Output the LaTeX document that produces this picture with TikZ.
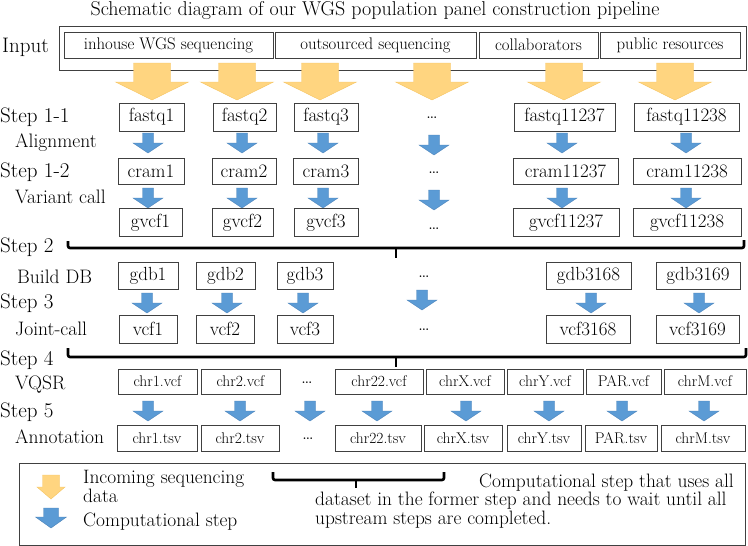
\documentclass[tikz,border=0pt]{standalone}
\definecolor{seqyellow}{HTML}{FFD580}
\definecolor{seqyellowline}{HTML}{F5C462}
\definecolor{compblue}{HTML}{5B9BD5}
\definecolor{compblueline}{HTML}{4A82B8}
\begin{document}
\begin{tikzpicture}[x=1pt,y=-1pt]
\tikzset{
  srcbox/.style={draw=black!75,line width=0.9pt,inner sep=0pt,minimum height=26pt,font=\fontsize{16.8}{19}\selectfont},
  databox/.style={draw=black!75,line width=0.9pt,inner sep=0pt,minimum height=28pt,font=\fontsize{19}{21}\selectfont},
  chrbox/.style={draw=black!75,line width=0.9pt,inner sep=0pt,minimum height=25pt,font=\fontsize{15.5}{18}\selectfont},
  steplabel/.style={anchor=west,inner sep=0pt,font=\fontsize{21}{24}\selectfont},
  sublabel/.style={anchor=west,inner sep=0pt,font=\fontsize{19.5}{22}\selectfont},
  legendtext/.style={anchor=base west,inner sep=0pt,font=\fontsize{19.4}{22}\selectfont},
  moredots/.style={inner sep=0pt,font=\fontsize{20}{22}\selectfont},
  seqarrow/.style={fill=seqyellow,draw=seqyellowline,line width=0.4pt},
  comparrow/.style={fill=compblue,draw=compblueline,line width=0.4pt},
  waitbracket/.style={line width=2.6pt,rounded corners=2pt},
  % half shaft / half head / length / head length, drawn from the top centre
  pics/blockarrow/.style args={#1/#2/#3/#4}{code={
    \path[pic actions] (-#1,0) -- (#1,0) -- (#1,#3-#4) -- (#2,#3-#4) -- (0,#3)
      -- (-#2,#3-#4) -- (-#1,#3-#4) -- cycle;}},
  pics/blockarrow/.default=5.5/15/20/10
}
\useasboundingbox (0,0) rectangle (748,546);
% title
\node[font=\fontsize{20}{23}\selectfont,inner sep=0pt] (n_title) at (375,11) {Schematic diagram of our WGS population panel construction pipeline};
% row labels
\node[steplabel] (l_input) at (2,47) {Input};
\node[steplabel] (l_s11) at (0,117) {Step 1-1};
\node[sublabel] (l_aln) at (15,143) {Alignment};
\node[steplabel] (l_s12) at (0,172) {Step 1-2};
\node[sublabel] (l_var) at (15,197) {Variant call};
\node[steplabel] (l_s2) at (0,247) {Step 2};
\node[sublabel] (l_db) at (17,277) {Build DB};
\node[steplabel] (l_s3) at (0,303) {Step 3};
\node[sublabel] (l_joint) at (15,329) {Joint-call};
\node[steplabel] (l_s4) at (0,360) {Step 4};
\node[sublabel] (l_vqsr) at (15,385) {VQSR};
\node[steplabel] (l_s5) at (0,412) {Step 5};
\node[sublabel] (l_anno) at (15,437) {Annotation};
% input sources
\node[draw=black!75,line width=0.9pt,minimum width=687pt,minimum height=44pt,inner sep=0pt] (n_input) at (402.5,48) {};
\node[srcbox,minimum width=209pt] (n_inhouse) at (168.5,45) {inhouse WGS sequencing};
\node[srcbox,minimum width=201pt] (n_outsourced) at (375.5,45) {outsourced sequencing};
\node[srcbox,minimum width=119pt] (n_collab) at (538.5,45) {collaborators};
\node[srcbox,minimum width=140pt] (n_public) at (670,45) {public resources};
\pic[seqarrow] (y_1) at (152,63) {blockarrow=18.5/36.5/37/18};
\pic[seqarrow] (y_2) at (237,63) {blockarrow=18.5/36.5/37/18};
\pic[seqarrow] (y_3) at (320,63) {blockarrow=18.5/36.5/37/18};
\pic[seqarrow] (y_4) at (432,63) {blockarrow=18.5/36.5/37/18};
\pic[seqarrow] (y_5) at (564,63) {blockarrow=18.5/36.5/37/18};
\pic[seqarrow] (y_6) at (675,63) {blockarrow=18.5/36.5/37/18};
% step 1-1
\node[databox,minimum width=65pt] (n_fastq1) at (151.5,117) {fastq1};
\node[databox,minimum width=63pt] (n_fastq2) at (244.5,117) {fastq2};
\node[databox,minimum width=64pt] (n_fastq3) at (326,117) {fastq3};
\node[moredots] (d_fastq) at (432,118) {\dots};
\node[databox,minimum width=101pt] (n_fastq11237) at (564.5,117) {fastq11237};
\node[databox,minimum width=105pt] (n_fastq11238) at (686.5,117) {fastq11238};
\pic[comparrow] (b_aln1) at (148,133) {blockarrow};
\pic[comparrow] (b_aln2) at (242,133) {blockarrow};
\pic[comparrow] (b_aln3) at (323,133) {blockarrow};
\pic[comparrow] (b_aln4) at (434,135) {blockarrow};
\pic[comparrow] (b_aln5) at (562,133) {blockarrow};
\pic[comparrow] (b_aln6) at (686,133) {blockarrow};
% step 1-2
\node[databox,minimum width=66pt,minimum height=26pt] (n_cram1) at (151,171) {cram1};
\node[databox,minimum width=64pt,minimum height=26pt] (n_cram2) at (244,171) {cram2};
\node[databox,minimum width=65pt,minimum height=26pt] (n_cram3) at (326,171) {cram3};
\node[moredots] (d_cram) at (434,173) {\dots};
\node[databox,minimum width=105pt,minimum height=26pt] (n_cram11237) at (565.5,171) {cram11237};
\node[databox,minimum width=108pt,minimum height=26pt] (n_cram11238) at (687,171) {cram11238};
\pic[comparrow] (b_var1) at (148,188) {blockarrow};
\pic[comparrow] (b_var2) at (242,188) {blockarrow};
\pic[comparrow] (b_var3) at (323,188) {blockarrow};
\pic[comparrow] (b_var4) at (434,190) {blockarrow};
\pic[comparrow] (b_var5) at (562,188) {blockarrow};
\pic[comparrow] (b_var6) at (686,188) {blockarrow};
\node[databox,minimum width=63pt] (n_gvcf1) at (150.5,222.5) {gvcf1};
\node[databox,minimum width=61pt] (n_gvcf2) at (242.5,222.5) {gvcf2};
\node[databox,minimum width=64pt] (n_gvcf3) at (326,222.5) {gvcf3};
\node[moredots] (d_gvcf) at (434,229) {\dots};
\node[databox,minimum width=106pt] (n_gvcf11237) at (566,222.5) {gvcf11237};
\node[databox,minimum width=108pt] (n_gvcf11238) at (687,222.5) {gvcf11238};
% step 2
\draw[waitbracket] (68,241) -- (68,248) -- (744,248) -- (744,240);
\draw[waitbracket] (396,248) -- (396,258);
\node[databox,minimum width=60pt,minimum height=27pt] (n_gdb1) at (148,275.5) {gdb1};
\node[databox,minimum width=59pt,minimum height=27pt] (n_gdb2) at (225.5,275.5) {gdb2};
\node[databox,minimum width=56pt,minimum height=27pt] (n_gdb3) at (305,275.5) {gdb3};
\node[moredots] (d_gdb) at (424,277) {\dots};
\node[databox,minimum width=85pt,minimum height=27pt] (n_gdb3168) at (588.5,275.5) {gdb3168};
\node[databox,minimum width=84pt,minimum height=27pt] (n_gdb3169) at (698,275.5) {gdb3169};
% step 3
\pic[comparrow] (b_jc1) at (147,293) {blockarrow};
\pic[comparrow] (b_jc2) at (227,293) {blockarrow};
\pic[comparrow] (b_jc3) at (303,293) {blockarrow};
\pic[comparrow] (b_jc4) at (422,290) {blockarrow};
\pic[comparrow] (b_jc5) at (591,293) {blockarrow};
\pic[comparrow] (b_jc6) at (699,293) {blockarrow};
\node[databox,minimum width=58pt] (n_vcf1) at (148,329) {vcf1};
\node[databox,minimum width=58pt] (n_vcf2) at (225,329) {vcf2};
\node[databox,minimum width=56pt] (n_vcf3) at (305,329) {vcf3};
\node[moredots] (d_vcf) at (424,330) {\dots};
\node[databox,minimum width=84pt] (n_vcf3168) at (588,329) {vcf3168};
\node[databox,minimum width=83pt] (n_vcf3169) at (697.5,329) {vcf3169};
% step 4
\draw[waitbracket] (68,348) -- (68,357) -- (746,357) -- (746,348);
\draw[waitbracket] (396,357) -- (396,367);
\node[chrbox,minimum width=79pt] (n_chr1vcf) at (157.5,381.5) {chr1.vcf};
\node[chrbox,minimum width=79pt] (n_chr2vcf) at (240.5,381.5) {chr2.vcf};
\node[moredots] (d_chrvcf) at (307,383) {\dots};
\node[chrbox,minimum width=88pt] (n_chr22vcf) at (379,381.5) {chr22.vcf};
\node[chrbox,minimum width=78pt] (n_chrXvcf) at (465,381.5) {chrX.vcf};
\node[chrbox,minimum width=76pt] (n_chrYvcf) at (545,381.5) {chrY.vcf};
\node[chrbox,minimum width=75pt] (n_PARvcf) at (623.5,381.5) {PAR.vcf};
\node[chrbox,minimum width=82pt] (n_chrMvcf) at (705,381.5) {chrM.vcf};
% step 5
\pic[comparrow] (b_an1) at (148,401) {blockarrow};
\pic[comparrow] (b_an2) at (240,401) {blockarrow};
\pic[comparrow] (b_an3) at (310,401) {blockarrow};
\pic[comparrow] (b_an4) at (377,401) {blockarrow};
\pic[comparrow] (b_an5) at (466,401) {blockarrow};
\pic[comparrow] (b_an6) at (549,401) {blockarrow};
\pic[comparrow] (b_an7) at (622,401) {blockarrow};
\pic[comparrow] (b_an8) at (704,401) {blockarrow};
\node[chrbox,minimum width=80pt,minimum height=26pt] (n_chr1tsv) at (157,438) {chr1.tsv};
\node[chrbox,minimum width=78pt,minimum height=26pt] (n_chr2tsv) at (240,438) {chr2.tsv};
\node[moredots] (d_chrtsv) at (308,439) {\dots};
\node[chrbox,minimum width=86pt,minimum height=26pt] (n_chr22tsv) at (378,438) {chr22.tsv};
\node[chrbox,minimum width=78pt,minimum height=26pt] (n_chrXtsv) at (463,438) {chrX.tsv};
\node[chrbox,minimum width=74pt,minimum height=26pt] (n_chrYtsv) at (544,438) {chrY.tsv};
\node[chrbox,minimum width=72pt,minimum height=26pt] (n_PARtsv) at (621,438) {PAR.tsv};
\node[chrbox,minimum width=84pt,minimum height=26pt] (n_chrMtsv) at (703,438) {chrM.tsv};
% legend
\node[draw=black!75,line width=0.9pt,minimum width=726pt,minimum height=82pt,inner sep=0pt] (n_legend) at (382,504) {};
\pic[seqarrow] (k_seq) at (51,475) {blockarrow=8.5/14/24/12};
\pic[comparrow] (k_comp) at (51,508) {blockarrow=7.5/15.5/20/11};
\node[legendtext] (t_seq1) at (83,483) {Incoming sequencing};
\node[legendtext] (t_seq2) at (83,502) {data};
\node[legendtext] (t_comp) at (83,526) {Computational step};
\draw[waitbracket] (273,472) -- (273,480) -- (444,480) -- (444,472);
\draw[waitbracket] (356,480) -- (356,488);
\node[legendtext,anchor=base east] (t_wait1) at (734,487) {Computational step that uses all};
\node[legendtext] (t_wait2) at (315,505.5) {dataset in the former step and needs to wait until all};
\node[legendtext] (t_wait3) at (315,524) {upstream steps are completed.};
\end{tikzpicture}
\end{document}
